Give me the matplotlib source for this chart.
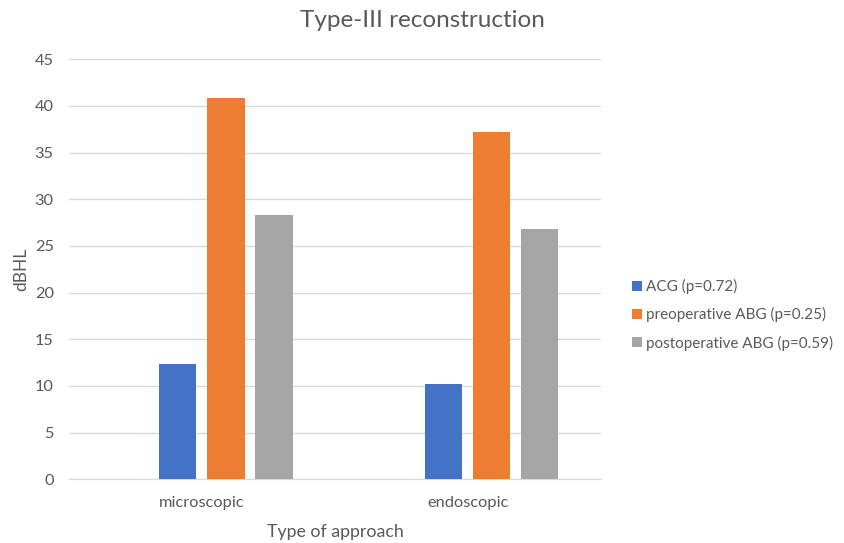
import numpy as np
import matplotlib.pyplot as plt

plt.rcParams['font.family'] = ['Lato', 'DejaVu Sans']

approaches = ['microscopic', 'endoscopic']
series_names = ['ACG (p=0.72)', 'preoperative ABG (p=0.25)', 'postoperative ABG (p=0.59)']
acg = [12.4, 10.2]
preop_abg = [40.9, 37.2]
postop_abg = [28.3, 26.8]
colors = ['#4472C4', '#ED7D31', '#A5A5A5']

text_color = '#595959'

fig = plt.figure(figsize=(8.44, 5.43), dpi=100)
ax = fig.add_axes([0.0818, 0.1173, 0.630, 0.7735])

x = np.arange(len(approaches))
width = 0.14
step = 0.181
shift = 0.09
for i, (vals, name, c) in enumerate(zip([acg, preop_abg, postop_abg], series_names, colors)):
    ax.bar(x + shift + (i - 1) * step, vals, width, color=c, label=name, zorder=3)

ax.set_xlim(-0.5, 1.5)
ax.set_ylim(0, 45)
ax.set_yticks(range(0, 46, 5))
ax.set_xticks(x)
ax.set_xticklabels(approaches)

ax.grid(axis='y', color='#D9D9D9', linewidth=1.0, zorder=0)
for s in ['top', 'right', 'left']:
    ax.spines[s].set_visible(False)
ax.spines['bottom'].set_color('#D9D9D9')
ax.tick_params(axis='both', length=0, colors=text_color, labelsize=11.8)
ax.tick_params(axis='y', pad=11)
ax.tick_params(axis='x', pad=12)

ax.set_ylabel('dBHL', color=text_color, fontsize=12.5, labelpad=4)
ax.set_xlabel('Type of approach', color=text_color, fontsize=12.8, labelpad=10)

fig.text(0.5, 0.962, 'Type-III reconstruction', ha='center', va='center',
         color=text_color, fontsize=17.5)

leg = ax.legend(loc='center left', bbox_to_anchor=(0.749, 0.42),
                bbox_transform=fig.transFigure, frameon=False,
                borderpad=0, borderaxespad=0,
                handlelength=0.65, handleheight=0.65, handletextpad=0.25,
                labelspacing=0.85, fontsize=11)
for t in leg.get_texts():
    t.set_color(text_color)

fig.savefig('out.png', dpi=100)
